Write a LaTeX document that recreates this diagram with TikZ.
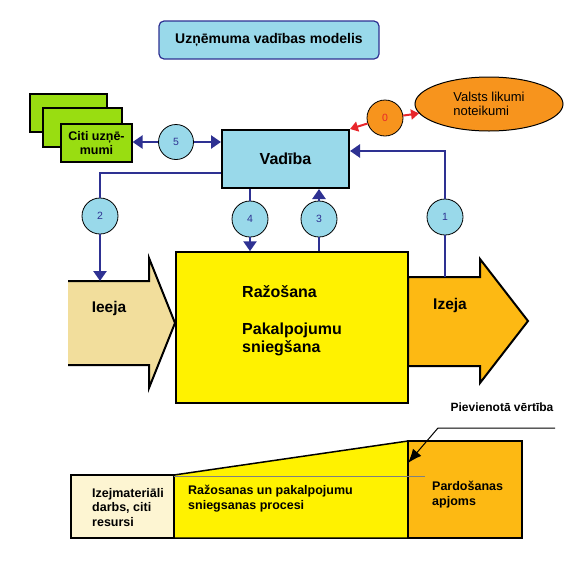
\documentclass[tikz,border=0pt]{standalone}
\usepackage{fontspec}
\setmainfont{Liberation Sans}
\usetikzlibrary{arrows.meta,shapes.geometric}

\definecolor{navy}{HTML}{2E3192}
\definecolor{skyb}{HTML}{99D9EA}
\definecolor{firmgreen}{HTML}{99DD11}
\definecolor{lawor}{HTML}{F7941D}
\definecolor{prodyel}{HTML}{FFF200}
\definecolor{outor}{HTML}{FDB913}
\definecolor{inwheat}{HTML}{F2DE9C}
\definecolor{cream}{HTML}{FDF5D2}
\definecolor{lawred}{HTML}{E8262B}

\begin{document}
\begin{tikzpicture}[x=1pt,y=-1pt,
    lbl/.style={font=\bfseries\fontsize{12.5}{14.5}\selectfont,align=left,inner sep=0pt},
    bigtxt/.style={font=\bfseries\fontsize{16}{18}\selectfont,align=left,inner sep=0pt},
    numring/.style={circle,draw,line width=0.8pt,fill=skyb,minimum size=36pt,inner sep=0pt,text=navy,font=\fontsize{10.5}{12}\selectfont},
    firmbox/.style={rectangle,draw,line width=1.2pt,fill=firmgreen},
    ctrl/.style={draw=navy,line width=2.5pt},
    headed/.style={-{Triangle[length=10pt,width=13pt]}},
    redlink/.style={draw=lawred,line width=2pt,-{Triangle[length=8pt,width=10pt]}}]
\useasboundingbox (0,0) rectangle (587,571);

% title
\node (title) at (269,40) [rectangle,rounded corners=5pt,draw=navy,line width=1.2pt,fill=skyb,minimum width=220pt,minimum height=38pt,font=\bfseries\fontsize{14}{16}\selectfont] {Uzņēmuma vadības modelis};

% other firms
\node (firm1) at (68.5,113) [firmbox,minimum width=77pt,minimum height=38pt] {};
\node (firm2) at (82.5,127.5) [firmbox,minimum width=79pt,minimum height=39pt] {};
\node (firm3) at (96.5,143) [firmbox,minimum width=71pt,minimum height=38pt,align=center,inner sep=0pt,font=\bfseries\fontsize{12.5}{14.5}\selectfont] {Citi uzņē-\\mumi};

% management
\node (vad) at (285.5,159) [rectangle,draw,line width=2pt,fill=skyb,minimum width=127pt,minimum height=58pt,font=\bfseries\fontsize{16}{18}\selectfont] {Vadība};

% state rules
\node (law) at (489,104) [ellipse,draw,line width=1pt,fill=lawor,minimum width=148pt,minimum height=54pt,inner sep=0pt,align=left,font=\fontsize{13}{14.5}\selectfont] {Valsts likumi\\noteikumi};

% numbered links
\node (n0) at (385,118) [numring,fill=lawor,text=lawred] {0};
\node (n1) at (445,217) [numring] {1};
\node (n2) at (100,216) [numring] {2};
\node (n3) at (319,219) [numring] {3};
\node (n4) at (250,219) [numring] {4};
\node (n5) at (176,142) [numring,minimum size=35pt] {5};

\draw[redlink] (n0) -- (vad.north east);
\draw[redlink] (n0) -- (law);
\draw[ctrl,headed] (n5) -- (firm3.east |- n5);
\draw[ctrl,headed] (n5) -- (vad.west |- n5);

% input and output arrows
\coordinate (intop) at (68,281);
\coordinate (outtop) at (408,277);
\fill[inwheat] (intop) -- (149,281) -- (149,258) -- (175,323) -- (149,388) -- (149,365) -- (68,365) -- cycle;
\draw[line width=2pt] (intop) -- (149,281) -- (149,258) -- (175,323) -- (149,388) -- (149,365) -- (68,365);
\draw[line width=2pt,fill=outor] (outtop) -- (480,277) -- (480,259) -- (528,321) -- (480,383) -- (480,366) -- (408,366) -- cycle;
\node (ieeja) at (109,308) [font=\bfseries\fontsize{15.5}{17}\selectfont] {Ieeja};
\node (izeja) at (450,305) [font=\bfseries\fontsize{15.5}{17}\selectfont] {Izeja};

% production
\node (prod) at (292,327.5) [rectangle,draw,line width=1.5pt,fill=prodyel,minimum width=232pt,minimum height=151pt] {};
\node (prodtxt) at (242,352) [bigtxt,anchor=base west] {Ražošana\\[19pt]Pakalpojumu\\sniegšana};

\draw[ctrl] (vad.south -| n4) -- (n4);
\draw[ctrl,headed] (n4) -- (n4 |- prod.north);
\draw[ctrl] (prod.north -| n3) -- (n3);
\draw[ctrl,headed] (n3) -- (n3 |- vad.south);
\draw[ctrl] ([yshift=16pt]vad.south west) -| (n2);
\draw[ctrl,headed] (n2) -- (n2 |- intop);
\draw[ctrl] (outtop -| n1) -- (n1);
\draw[ctrl,headed] (n1) |- ([yshift=-22pt]vad.north east);

% value added
\draw[line width=1.5pt,fill=cream] (71,475) rectangle (174,538);
\draw[line width=1.5pt,fill=prodyel] (174,475) -- (408,441) -- (408,538) -- (174,538) -- cycle;
\draw[line width=1.5pt,fill=outor] (408,441) rectangle (522,538);
\draw[gray,line width=0.8pt] (174,476) -- (425,476);

\node (raw) at (92,526) [lbl,anchor=base west] {Izejmateriāli\\darbs, citi\\resursi};
\node (proc) at (188,509) [lbl,anchor=base west] {Ražosanas un pakalpojumu\\sniegsanas procesi};
\node (sales) at (432,505) [lbl,anchor=base west] {Pardošanas\\apjoms};

\node (added) at (502,411) [font=\bfseries\fontsize{12}{14}\selectfont,anchor=base] {Pievienotā vērtība};
\coordinate (addfree) at (555,428);
\coordinate (addbend) at (438,428);
\coordinate (addtip) at (408,463);
\draw[line width=1pt,-{Latex[length=14pt,width=11pt]}] (addfree) -- (addbend) -- (addtip);
\end{tikzpicture}
\end{document}
